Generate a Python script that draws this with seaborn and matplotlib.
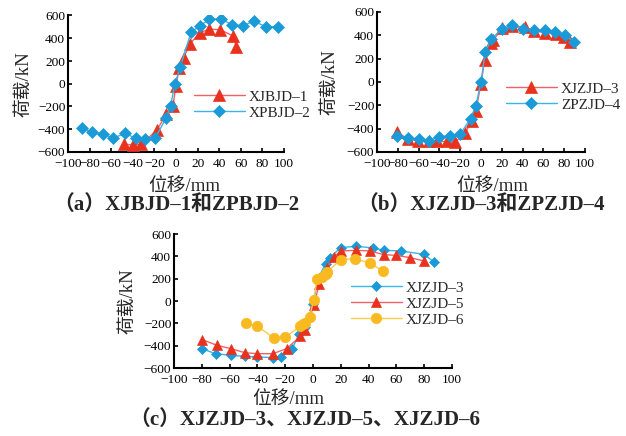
import numpy as np
import pandas as pd
import matplotlib
matplotlib.use("Agg")
import matplotlib.pyplot as plt
import seaborn as sns

# ---------------- data ----------------
# (a)
a_red_x = [-48, -40, -32, -18, -9, -3, 0, 3, 7, 13, 22, 31, 41, 53, 56]
a_red_y = [-530, -540, -530, -410, -270, -200, -20, 140, 230, 350, 450, 480, 475, 420, 320]
a_blue_x = [-87, -78, -68, -58, -47, -37, -29, -19, -9, -5, -1, 4, 14, 22, 31, 42, 52, 62, 72, 83, 94]
a_blue_y = [-393, -422, -443, -476, -437, -481, -490, -473, -298, -194, 0, 147, 455, 508, 567, 570, 517, 511, 550, 502, 502]
# (b)
b_red_x = [-81, -70, -61, -50, -42, -33, -25, -15, -9, -5, 0, 3.5, 10, 12, 20, 30, 42, 51, 62, 72, 80, 86]
b_red_y = [-430, -490, -503, -510, -510, -510, -517, -433, -336, -250, -15, 190, 330, 360, 460, 478, 470, 440, 422, 414, 386, 340]
b_blue_x = [-81, -70, -60, -50, -40, -30, -20, -10, -5, 0, 4, 10, 20, 30, 40, 51, 62, 71, 81, 89]
b_blue_y = [-461, -480, -489, -503, -469, -461, -447, -314, -205, 0, 253, 372, 450, 489, 450, 442, 442, 428, 406, 344]
# (c)
c_blue_x = [-80, -70, -59, -49, -40, -29, -23, -15, -10, -5.5, 0, 4, 9, 12, 20, 31, 43, 51, 63, 80, 87]
c_blue_y = [-427, -472, -487, -496, -501, -507, -501, -427, -298, -233, -24, 209, 334, 388, 478, 490, 475, 454, 448, 418, 349]
c_red_x = [-80, -69, -59, -49, -40, -29, -19, -9, -5.5, 0.5, 4.5, 10, 15, 20, 31, 41, 51, 60, 70, 80]
c_red_y = [-345, -397, -427, -463, -472, -472, -427, -316, -263, -40, 149, 298, 394, 448, 454, 448, 415, 409, 388, 358]
c_yel_x = [-48, -40, -28, -20, -9, -7, -5.5, -2.5, 0.5, 3, 6.5, 9, 10, 20, 30, 41, 50]
c_yel_y = [-197, -227, -331, -322, -227, -209, -197, -140, 6, 200, 215, 245, 260, 370, 379, 340, 269]

labels_a = ["XJBJD–1", "XPBJD–2"]
labels_b = ["XJZJD–3", "ZPZJD–4"]
labels_c = ["XJZJD–3", "XJZJD–5", "XJZJD–6"]
captions = ["（a）XJBJD–1和ZPBJD–2", "（b）XJZJD–3和ZPZJD–4", "（c）XJZJD–3、XJZJD–5、XJZJD–6"]
xticks = list(range(-100, 101, 20))
yticks = list(range(-600, 601, 200))

# ---------------- style ----------------
sns.set_style("ticks")
plt.rcParams["font.family"] = ["Liberation Serif", "Noto Sans CJK SC"]
plt.rcParams["axes.unicode_minus"] = True

RED_M = "#e8321e"
RED_L = "#f2606a"
BLUE_M = "#1b9ad8"
BLUE_L = "#38b6e6"
YEL_M = "#f9b921"
YEL_L = "#fccb4a"

fig = plt.figure(figsize=(6.26, 4.36), dpi=100)
W, H = 626, 436

def add_ax(l, r, t, b):
    return fig.add_axes([l / W, 1 - b / H, (r - l) / W, (b - t) / H])

def style_ax(ax, ylab_x, xlab_x, xlab_y, xpad=4):
    ax.set_xlim(-100, 100)
    ax.set_ylim(-600, 600)
    ax.set_xticks(xticks)
    ax.set_yticks(yticks)
    sns.despine(ax=ax)
    for s in ["left", "bottom"]:
        ax.spines[s].set_linewidth(1.5)
        ax.spines[s].set_color("black")
    ax.tick_params(direction="in", length=3, width=1.2, labelsize=9.6, pad=2, colors="black")
    ax.tick_params(axis="x", pad=xpad)
    ax.set_xlabel("位移/mm", fontsize=13.5)
    ax.set_ylabel("荷载/kN", fontsize=13.5)
    ax.yaxis.set_label_coords(ylab_x, 0.5)
    ax.xaxis.set_label_coords(xlab_x, xlab_y)
    ax.set_facecolor("white")

def series(ax, x, y, marker, ms, cm, cl, label, z):
    df = pd.DataFrame({"x": x, "y": y})
    sns.lineplot(data=df, x="x", y="y", sort=False, ax=ax, color=cl, linewidth=1.0,
                 marker=marker, markersize=ms, markerfacecolor=cm, markeredgecolor=cm,
                 markeredgewidth=0.5, label=label, zorder=z)

def legend(ax, loc):
    lg = ax.legend(loc="upper left", bbox_to_anchor=loc, frameon=False, fontsize=11,
                   handlelength=3.3, handletextpad=0.3, labelspacing=0.15, borderaxespad=0)
    return lg

# (a)
ax1 = add_ax(68, 284, 15.5, 152)
series(ax1, a_red_x, a_red_y, "^", 8.5, RED_M, RED_L, labels_a[0], 3)
series(ax1, a_blue_x, a_blue_y, "D", 6.2, BLUE_M, BLUE_L, labels_a[1], 4)
style_ax(ax1, -0.165, 0.54, -0.19)
legend(ax1, ((188 - 68) / 216, (152 - 84) / 136.5))

# (b)
ax2 = add_ax(377, 585, 12, 152)
series(ax2, b_red_x, b_red_y, "^", 8.5, RED_M, RED_L, labels_b[0], 3)
series(ax2, b_blue_x, b_blue_y, "D", 6.2, BLUE_M, BLUE_L, labels_b[1], 4)
style_ax(ax2, -0.185, 0.553, -0.185)
legend(ax2, ((500 - 377) / 208, (152 - 76) / 140))

# (c)
ax3 = add_ax(174, 452, 234, 368)
series(ax3, c_blue_x, c_blue_y, "D", 4.8, BLUE_M, BLUE_L, labels_c[0], 3)
series(ax3, c_red_x, c_red_y, "^", 7.5, RED_M, RED_L, labels_c[1], 4)
series(ax3, c_yel_x, c_yel_y, "o", 7.5, YEL_M, YEL_L, labels_c[2], 5)
style_ax(ax3, -0.135, 0.41, -0.17, xpad=4)
legend(ax3, ((345 - 174) / 278, (368 - 275) / 134))

# captions
fig.text(176 / W, 1 - 205 / H, captions[0], ha="center", va="center", fontsize=15, fontweight="bold")
fig.text(481 / W, 1 - 205 / H, captions[1], ha="center", va="center", fontsize=15, fontweight="bold")
fig.text(305 / W, 1 - 420 / H, captions[2], ha="center", va="center", fontsize=15, fontweight="bold")

fig.savefig("out.png", dpi=100, facecolor="white")
